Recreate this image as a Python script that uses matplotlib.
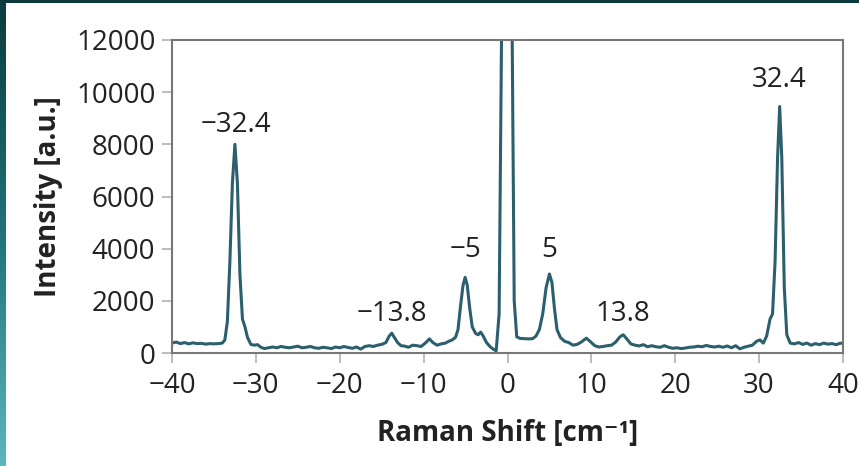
import numpy as np
import matplotlib
matplotlib.use('Agg')
import matplotlib.pyplot as plt
from matplotlib.colors import LinearSegmentedColormap

plt.rcParams['font.family'] = ['Open Sans', 'DejaVu Sans']

# Raman spectrum
shift = [-40, -39.5, -39, -38.5, -38, -37.5, -37, -36.5, -36, -35.5, -35, -34.5, -34,
         -33.7, -33.4, -33.1, -32.8, -32.5, -32.2, -31.9, -31.6, -31.3, -31.0, -30.6,
         -30.2, -29.8, -29.4, -29, -28.5, -28, -27.5, -27, -26.5, -26, -25.5, -25,
         -24.5, -24, -23.5, -23, -22.5, -22, -21.5, -21, -20.5, -20, -19.5, -19, -18.5,
         -18, -17.5, -17, -16.5, -16, -15.5, -15, -14.5, -14.1, -13.8, -13.5, -13.1,
         -12.7, -12.2, -11.8, -11.3, -10.8, -10.3, -9.8, -9.3, -8.9, -8.4, -7.9, -7.4,
         -7, -6.6, -6.2, -5.9, -5.6, -5.3, -5.05, -4.8, -4.5, -4.2, -3.8, -3.5, -3.2,
         -2.9, -2.5, -2.1, -1.7, -1.35, -1.0, -0.7, 0, 0.55, 0.8, 1.1, 1.5, 2, 2.5, 3,
         3.4, 3.8, 4.2, 4.6, 5.0, 5.3, 5.6, 5.9, 6.3, 6.8, 7.3, 7.8, 8.3, 8.8, 9.4, 9.9,
         10.4, 10.9, 11.4, 11.9, 12.4, 12.9, 13.4, 13.8, 14.2, 14.7, 15.2, 15.7, 16.2,
         16.7, 17.2, 17.7, 18.2, 18.7, 19.2, 19.7, 20.2, 20.7, 21.2, 21.7, 22.2, 22.7,
         23.2, 23.7, 24.2, 24.7, 25.2, 25.7, 26.2, 26.7, 27.2, 27.7, 28.2, 28.7, 29.2,
         29.7, 30.1, 30.5, 30.9, 31.3, 31.6, 31.9, 32.2, 32.45, 32.7, 33.0, 33.3, 33.7,
         34.2, 34.7, 35.2, 35.7, 36.2, 36.7, 37.2, 37.7, 38.2, 38.7, 39.2, 39.7, 40]
intensity = [380, 420, 360, 400, 350, 390, 360, 370, 340, 360, 350, 360, 380,
             500, 1200, 3500, 6500, 8000, 6500, 3000, 1300, 1000, 600, 330,
             300, 320, 220, 170, 200, 230, 200, 250, 220, 200, 230, 260,
             200, 220, 250, 200, 180, 220, 200, 170, 230, 200, 250, 210, 180,
             230, 150, 250, 280, 250, 300, 330, 400, 650, 760, 600, 400,
             280, 260, 220, 300, 280, 250, 380, 540, 400, 300, 350, 380,
             450, 500, 600, 900, 1800, 2600, 2900, 2600, 1700, 1000, 750, 700, 800,
             650, 400, 250, 150, 80, 1500, 12500, 40000, 12500, 2000, 620, 560, 550, 540, 550,
             650, 900, 1500, 2500, 3030, 2700, 1700, 900, 600, 450, 400, 300, 330, 420, 570, 430,
             280, 230, 250, 280, 300, 420, 620, 700, 550, 350, 300, 270, 320,
             240, 280, 240, 220, 280, 220, 180, 200, 170, 190, 220, 230, 260,
             240, 290, 250, 230, 260, 220, 270, 200, 280, 160, 220, 260, 300,
             450, 500, 380, 650, 1300, 1500, 3500, 7500, 9450, 7500, 2500, 700, 380,
             350, 400, 330, 380, 300, 360, 320, 380, 340, 360, 320, 380, 360]

peak_labels = ['\u221232.4', '\u221213.8', '\u22125', '5', '13.8', '32.4']
peak_x = [-32.4, -13.8, -5, 5, 13.8, 32.4]
peak_y = [8750, 1500, 3950, 3950, 1500, 10450]

fig = plt.figure(figsize=(8.59, 4.66), dpi=100)
fig.patch.set_facecolor('white')

# teal frame strips at the left and top edge
strip = fig.add_axes([0, 0, 6 / 859, 1])
grad = np.linspace(0, 1, 256).reshape(-1, 1)
cmap = LinearSegmentedColormap.from_list('teal', ['#0a3c3f', '#1f7378', '#5bb7bf'])
strip.imshow(grad, aspect='auto', cmap=cmap, extent=[0, 1, 0, 1], origin='upper')
strip.axis('off')
top = fig.add_axes([0, 1 - 3 / 466, 1, 3 / 466])
top.set_facecolor('#0b3a3d')
top.set_xticks([])
top.set_yticks([])
for s in top.spines.values():
    s.set_visible(False)

ax = fig.add_axes([172 / 859, 113 / 466, 671 / 859, 313 / 466])
ax.plot(shift, intensity, color='#2b5f6d', linewidth=2.2, solid_joinstyle='round')
ax.set_xlim(-40, 40)
ax.set_ylim(0, 12000)
ax.set_xticks(range(-40, 41, 10))
ax.set_xticklabels([str(v).replace('-', '\u2212') for v in range(-40, 41, 10)])
ax.set_yticks(range(0, 12001, 2000))

for lab, x, y in zip(peak_labels, peak_x, peak_y):
    ax.text(x, y, lab, ha='center', va='center', fontsize=20, color='#222222')

for s in ax.spines.values():
    s.set_color('#777777')
    s.set_linewidth(1.5)
ax.tick_params(direction='out', length=7, width=1.2, color='#b0b0b0',
               labelsize=20, labelcolor='#222222', pad=5)
ax.tick_params(axis='x', pad=7)

ax.set_xlabel('Raman Shift [cm\u207b\u00b9]', fontsize=20, fontweight='bold', color='#222222', labelpad=13)
ax.set_ylabel('Intensity [a.u.]', fontsize=20, fontweight='bold', color='#222222', labelpad=9)

fig.savefig('out.png', dpi=100)
